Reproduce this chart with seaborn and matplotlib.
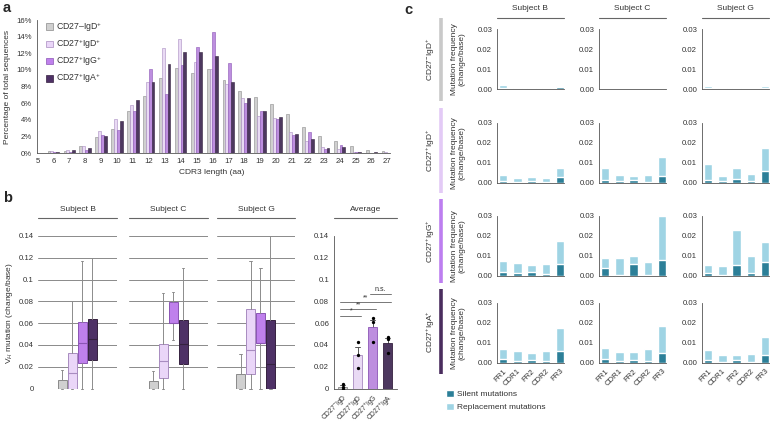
import matplotlib
matplotlib.use("Agg")
import numpy as np
import pandas as pd
import matplotlib.pyplot as plt
import seaborn as sns
from matplotlib.patches import Patch
from matplotlib.lines import Line2D

sns.set_theme(style="white")
plt.rcParams["font.family"] = ["Liberation Sans", "DejaVu Sans"]
plt.rcParams["mathtext.fontset"] = "custom"
plt.rcParams["mathtext.rm"] = "Liberation Sans"
plt.rcParams["mathtext.it"] = "Liberation Sans:italic"
plt.rcParams["mathtext.bf"] = "Liberation Sans:bold"

# ---- data: panel a (CDR3 length distribution, %)
cdr3_len = list(range(5, 28))
pct_naive = [0.1, 0.3, 0.3, 0.8, 1.9, 2.9, 5.0, 6.8, 9.0, 10.2, 9.6, 10.1, 8.8, 7.5, 6.7, 5.9, 4.7, 3.1, 2.1, 1.5, 0.8, 0.4, 0.3]
pct_igd = [0.1, 0.3, 0.4, 0.9, 2.7, 4.1, 5.8, 8.5, 12.6, 13.7, 11.0, 10.1, 8.3, 6.6, 4.4, 4.2, 2.5, 1.4, 0.7, 0.5, 0.15, 0.05, 0.1]
pct_igg = [0.05, 0.1, 0.1, 0.4, 2.2, 2.8, 5.0, 10.1, 7.1, 10.6, 12.7, 14.5, 10.8, 6.0, 5.0, 4.1, 2.2, 2.5, 0.5, 1.0, 0.1, 0.05, 0.05]
pct_iga = [0.05, 0.15, 0.35, 0.6, 2.0, 3.9, 6.4, 8.5, 10.7, 12.2, 12.2, 11.7, 8.6, 6.6, 5.0, 4.3, 2.3, 1.7, 0.6, 0.7, 0.1, 0.1, 0.2]
legend_a = ["CD27–IgD$^{+}$", "CD27$^{+}$IgD$^{+}$", "CD27$^{+}$IgG$^{+}$", "CD27$^{+}$IgA$^{+}$"]

# ---- data: panel b (box stats: whislo, q1, median, q3, whishi)
subjects = ["Subject B", "Subject C", "Subject G"]
box_B = [(0, 0, 0, 0.0075, 0.017), (0, 0, 0.014, 0.033, 0.080),
         (0, 0.023, 0.042, 0.061, 0.117), (0, 0.026, 0.045, 0.064, 0.120)]
box_C = [(0, 0, 0, 0.0072, 0.0165), (0, 0.010, 0.025, 0.041, 0.088),
         (0.0447, 0.060, 0.060, 0.0794, 0.0886), (0, 0.0222, 0.0408, 0.0633, 0.1105)]
box_G = [(0, 0, 0, 0.0131, 0.032), (0, 0.0131, 0.035, 0.0728, 0.1166),
         (0, 0.0414, 0.0414, 0.0697, 0.111), (0, 0, 0.0222, 0.0633, 0.140)]
avg_labels = ["CD27$^{-}$IgD", "CD27$^{+}$IgD", "CD27$^{+}$IgG", "CD27$^{+}$IgA"]
avg_naive = [0.0045, 0.001, 0.0]
avg_igd = [0.043, 0.031, 0.0187]
avg_igg = [0.0645, 0.0615, 0.043]
avg_iga = [0.0473, 0.0457, 0.0324]
b_ticks = [0, 0.02, 0.04, 0.06, 0.08, 0.1, 0.12, 0.14]
b_ticklabels = ["0", "0.02", "0.04", "0.06", "0.08", "0.1", "0.12", "0.14"]
sig_pairs = [(0, 1, 0.067, "*"), (0, 2, 0.0727, "**"), (0, 3, 0.079, "**"), (2, 3, 0.0866, "n.s.")]

# ---- data: panel c (total and silent mutation frequency; rows x [B, C, G])
regions = ["FR1", "CDR1", "FR2", "CDR2", "FR3"]
row_labels = ["CD27$^{-}$IgD$^{+}$", "CD27$^{+}$IgD$^{+}$", "CD27$^{+}$IgG$^{+}$", "CD27$^{+}$IgA$^{+}$"]
total_naive = [[0.0020, 0.0008, 0.0009, 0.0005, 0.0018],
               [0.0003, 0.0002, 0.0003, 0.0002, 0.0003],
               [0.0015, 0.0006, 0.0008, 0.0004, 0.0015]]
silent_naive = [[0.0006, 0.0002, 0.0003, 0.0001, 0.0010],
                [0.0001, 0.0001, 0.0001, 0.0001, 0.0001],
                [0.0005, 0.0002, 0.0002, 0.0001, 0.0006]]
total_igd = [[0.0040, 0.0025, 0.0027, 0.0026, 0.0075],
             [0.0073, 0.0037, 0.0033, 0.0040, 0.0130],
             [0.0096, 0.0035, 0.0075, 0.0043, 0.0175]]
silent_igd = [[0.0010, 0.0006, 0.0008, 0.0006, 0.0030],
              [0.0012, 0.0010, 0.0012, 0.0006, 0.0035],
              [0.0015, 0.0007, 0.0020, 0.0008, 0.0058]]
total_igg = [[0.0075, 0.0063, 0.0055, 0.0057, 0.0172],
             [0.0090, 0.0087, 0.0100, 0.0067, 0.0297],
             [0.0055, 0.0047, 0.0227, 0.0100, 0.0170]]
silent_igg = [[0.0018, 0.0012, 0.0016, 0.0008, 0.0060],
              [0.0040, 0.0001, 0.0056, 0.0005, 0.0080],
              [0.0012, 0.0004, 0.0052, 0.0015, 0.0070]]
total_iga = [[0.0067, 0.0060, 0.0049, 0.0057, 0.0172],
             [0.0076, 0.0052, 0.0056, 0.0069, 0.0185],
             [0.0064, 0.0041, 0.0037, 0.0042, 0.0131]]
silent_iga = [[0.0018, 0.0010, 0.0015, 0.0008, 0.0060],
              [0.0017, 0.0010, 0.0015, 0.0009, 0.0050],
              [0.0013, 0.0006, 0.0012, 0.0006, 0.0041]]

fills = ["#d0d0d0", "#ead6f8", "#bf80ec", "#4e3166"]
edges = ["#8a8a8a", "#a88cc0", "#8b55b5", "#35213f"]
c_silent = "#2c7f98"
c_repl = "#9fd4e4"
txt = "#333333"
fs_tick = 5.6
fs_lab = 6.0

W, H = 772, 424
fig = plt.figure(figsize=(W / 100, H / 100), dpi=100)


def box(x0, y0, x1, y1):
    return [x0 / W, 1 - y1 / H, (x1 - x0) / W, (y1 - y0) / H]


def ftext(x, y, s, **kw):
    fig.text(x / W, 1 - y / H, s, **kw)


def fline(x0, y0, x1, y1, **kw):
    fig.add_artist(Line2D([x0 / W, x1 / W], [1 - y0 / H, 1 - y1 / H], **kw))


def style_ticks(ax):
    ax.tick_params(axis="both", direction="out", length=2, width=0.5, color="#555555",
                   labelsize=fs_tick, labelcolor=txt, pad=1.5)
    for s in ax.spines.values():
        s.set_linewidth(0.6)
        s.set_color("#555555")


# ================= panel a
ax = fig.add_axes(box(36.5, 20, 390, 153))
df_a = pd.DataFrame({
    "len": cdr3_len * 4,
    "pct": pct_naive + pct_igd + pct_igg + pct_iga,
    "grp": sum([[g] * len(cdr3_len) for g in legend_a], []),
})
sns.barplot(data=df_a, x="len", y="pct", hue="grp", hue_order=legend_a, palette=fills,
            width=0.72, linewidth=0.4, ax=ax, legend=False)
for cont, ec in zip(ax.containers, edges):
    for p in cont:
        p.set_edgecolor(ec)
ax.set_xlim(-0.06, 22.17)
ax.set_ylim(0, 16)
ax.set_yticks(range(0, 17, 2))
ax.set_yticklabels([f"{v}%" for v in range(0, 17, 2)])
ax.set_xlabel("")
ax.set_ylabel("")
sns.despine(ax=ax)
style_ticks(ax)
handles = [Patch(facecolor=f, edgecolor=e, linewidth=0.5) for f, e in zip(fills, edges)]
ax.legend(handles, legend_a, loc="upper left", bbox_to_anchor=(46 / W, 1 - 20 / H),
          bbox_transform=fig.transFigure, frameon=False, fontsize=6.3, handlelength=0.8,
          handleheight=0.8, handletextpad=0.4, labelspacing=0.4, labelcolor=txt,
          borderpad=0, borderaxespad=0)
ftext(8, 87, "Percentage of total sequences", rotation=90, ha="center", va="center", fontsize=fs_lab, color=txt)
ftext(212, 172, "CDR3 length (aa)", ha="center", va="center", fontsize=fs_lab, color=txt)
ftext(3, 8, "a", fontsize=10.5, fontweight="bold", va="center")

# ================= panel b
ftext(3, 198, "b", fontsize=10.5, fontweight="bold", va="center")
sub_x = [(38, 117), (129, 208), (217, 295)]
for i, (name, stats_list) in enumerate(zip(subjects, [box_B, box_C, box_G])):
    x0, x1 = sub_x[i]
    ax = fig.add_axes(box(x0, 236, x1, 388.5))
    stats = [dict(whislo=s[0], q1=s[1], med=s[2], q3=s[3], whishi=s[4]) for s in stats_list]
    for y in b_ticks:
        ax.axhline(y, color="#8a8a8a", lw=0.7, zorder=0)
    bp = ax.bxp(stats, positions=[0, 1, 2, 3], widths=0.9, patch_artist=True, showfliers=False,
                whiskerprops=dict(color="#8c8c8c", lw=0.7), capprops=dict(color="#8c8c8c", lw=0.7),
                capwidths=0.25)
    for patch, med, f, e in zip(bp["boxes"], bp["medians"], fills, edges):
        patch.set_facecolor(f)
        patch.set_edgecolor(e)
        patch.set_linewidth(0.7)
        med.set_color(e)
        med.set_linewidth(0.8)
    for art in bp["whiskers"] + bp["caps"]:
        art.set_clip_on(False)
    ax.set_xlim(-2.4, 5.5)
    ax.set_ylim(0, 0.14)
    ax.set_xticks([])
    ax.set_yticks(b_ticks)
    if i == 0:
        ax.set_yticklabels(b_ticklabels)
    else:
        ax.set_yticklabels([])
    ax.tick_params(axis="y", length=0, labelsize=fs_tick, labelcolor=txt, pad=3)
    for s in ax.spines.values():
        s.set_visible(False)
    ftext((x0 + x1) / 2, 210, name, ha="center", va="center", fontsize=fs_lab, color=txt)
    fline(x0, 218, x1, 218, color="#666666", lw=0.8)
ftext(10, 313, "V$_{H}$ mutation (change/base)", rotation=90, ha="center", va="center", fontsize=fs_lab, color=txt)

ax = fig.add_axes(box(334, 236, 397, 388.5))
df_b = pd.DataFrame({
    "grp": sum([[g] * 3 for g in avg_labels], []),
    "val": avg_naive + avg_igd + avg_igg + avg_iga,
})
sns.barplot(data=df_b, x="grp", y="val", hue="grp", palette=fills, width=0.6, errorbar="se",
            capsize=0.35, err_kws=dict(color="#555555", linewidth=0.7), linewidth=0.6,
            ax=ax, legend=False)
for p, e in zip(ax.patches, edges):
    p.set_edgecolor(e)
    p.set_zorder(3)
for ln in ax.lines:
    ln.set_zorder(2)
sns.stripplot(data=df_b, x="grp", y="val", color="black", size=2.4, jitter=False, ax=ax, zorder=4)
for a, b, y, lab in sig_pairs:
    ax.plot([a - 0.2, b + 0.2], [y, y], color="#777777", lw=0.7, clip_on=False)
    ax.text((a + b) / 2 + 0.05, y + 0.001, lab, ha="center", va="bottom", fontsize=5, color=txt)
ax.set_xlim(-0.57, 3.63)
ax.set_ylim(0, 0.14)
ax.set_yticks(b_ticks)
ax.set_yticklabels(b_ticklabels)
ax.set_xlabel("")
ax.set_ylabel("")
ax.set_xticks(range(4))
ax.set_xticklabels(avg_labels, rotation=45, ha="right", rotation_mode="anchor")
sns.despine(ax=ax)
style_ticks(ax)
ax.tick_params(axis="x", labelsize=4.9, pad=0.8)
ftext(365.5, 210, "Average", ha="center", va="center", fontsize=fs_lab, color=txt)
fline(334, 218, 397, 218, color="#666666", lw=0.8)

# ================= panel c
ftext(404, 10, "c", fontsize=10.5, fontweight="bold", va="center")
col_x = [(497, 564), (599, 666), (702, 769)]
row_y = [(29.3, 89.3), (122.7, 182.7), (215.7, 275.7), (302.7, 362.7)]
row_bar = [(18, 101), (108, 193), (199, 283), (289, 374)]
bar_cols = ["#c9c9c9", "#e3caf6", "#bd7ef0", "#4a2d5e"]
totals = [total_naive, total_igd, total_igg, total_iga]
silents = [silent_naive, silent_igd, silent_igg, silent_iga]
for r in range(4):
    y0, y1 = row_y[r]
    for c in range(3):
        x0, x1 = col_x[c]
        ax = fig.add_axes(box(x0, y0, x1, y1))
        sns.barplot(x=regions, y=totals[r][c], color=c_repl, width=0.58, ax=ax, saturation=1)
        sns.barplot(x=regions, y=silents[r][c], color=c_silent, width=0.58, ax=ax, saturation=1)
        ax.set_xlim(-0.45, 4.3)
        ax.set_ylim(0, 0.03)
        ax.set_yticks([0, 0.01, 0.02, 0.03])
        ax.set_yticklabels(["0.00", "0.01", "0.02", "0.03"])
        if r == 3:
            ax.set_xticklabels(regions, rotation=45, ha="right", rotation_mode="anchor")
        else:
            ax.set_xticklabels([])
        ax.set_xlabel("")
        ax.set_ylabel("")
        sns.despine(ax=ax)
        style_ticks(ax)
    ftext(458, (y0 + y1) / 2, "Mutation frequency\n(change/base)", rotation=90, ha="center",
          va="center", fontsize=6.0, color=txt, linespacing=1.0)
    b0, b1 = row_bar[r]
    fline(441, b0, 441, b1, color=bar_cols[r], lw=2.6, solid_capstyle="butt")
    ftext(431, (b0 + b1) / 2, row_labels[r], rotation=90, ha="center", va="center", fontsize=fs_lab, color=txt)
for c in range(3):
    x0, x1 = col_x[c]
    ftext((x0 + x1) / 2, 9, subjects[c], ha="center", va="center", fontsize=fs_lab, color=txt)
    fline(x0, 18, x1, 18, color="#666666", lw=0.8)

fig.legend([Patch(facecolor=c_silent), Patch(facecolor=c_repl)],
           ["Silent mutations", "Replacement mutations"], loc="upper left",
           bbox_to_anchor=(446 / W, 1 - 390 / H), frameon=False, fontsize=fs_lab,
           handlelength=0.9, handleheight=0.9, handletextpad=0.4, labelspacing=0.55,
           labelcolor=txt, borderaxespad=0, borderpad=0)

fig.savefig("out.png", dpi=100)
